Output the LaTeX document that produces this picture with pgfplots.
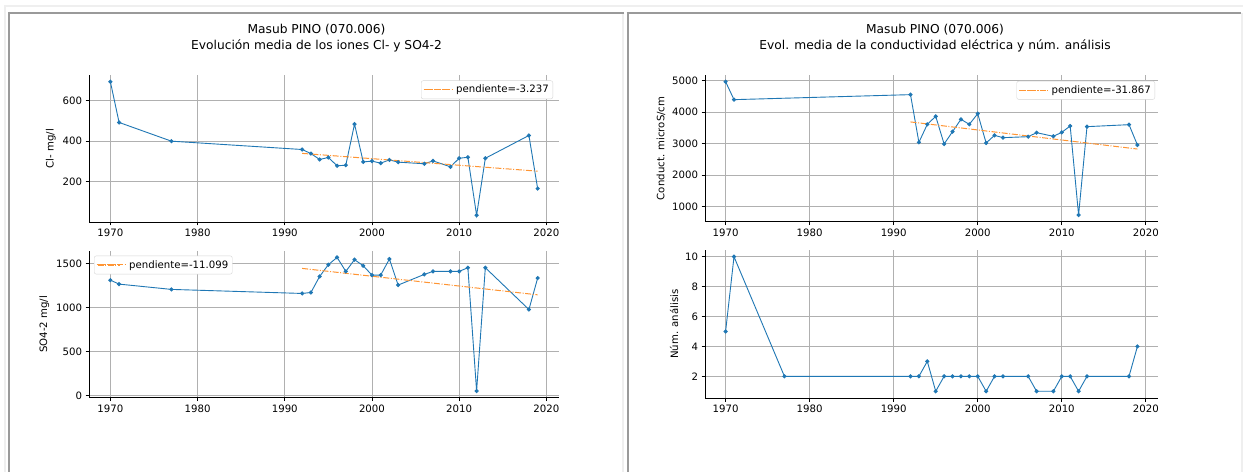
\documentclass[border=0pt]{standalone}
\usepackage{fontspec}
\setmainfont{DejaVu Sans}
\usepackage{pgfplots}
\pgfplotsset{compat=1.18}
\definecolor{mblue}{HTML}{1F77B4}
\definecolor{morange}{HTML}{FF7F0E}
\definecolor{morangel}{HTML}{FF9533}
\definecolor{gridc}{HTML}{B0B0B0}
\definecolor{darkb}{HTML}{9A9A9A}
\definecolor{lightb}{HTML}{EFEFEF}
\definecolor{legb}{HTML}{D5D5D5}
\newcommand{\tf}{\fontsize{10.2}{12}\selectfont}
\newcommand{\ttl}{\fontsize{12.3}{14}\selectfont}
\pgfplotsset{
 myax/.style={
  scale only axis, anchor=south west,
  xmin=1967.55, xmax=2021.45,
  xtick={1970,1980,...,2020},
  axis x line*=bottom, axis y line*=left,
  axis line style={-, line width=0.8bp, black},
  tick align=outside, major tick length=3.5bp,
  every tick/.style={black, line width=0.8bp},
  grid=major, major grid style={gridc, line width=0.8bp},
  tick label style={font=\tf, /pgf/number format/1000 sep={}, /pgf/number format/assume math mode=true},
  label style={font=\tf},
  legend style={font=\tf, draw=legb, rounded corners=2bp, fill=white, inner xsep=2bp, inner ysep=2.5bp},
  legend cell align=left,
  legend image code/.code={\path (-1bp,0bp) -- (29bp,0bp); \draw[morangel, line width=1.1bp, dash pattern=on 6bp off 1.6bp on 1bp off 1.6bp] (0bp,0bp) -- (22bp,0bp);},
  clip=false,
 },
 dline/.style={mblue, line width=0.9bp, mark=*, mark size=1.6bp, mark options={solid, fill=mblue, draw=mblue}},
 tline/.style={morangel, line width=1bp, dash pattern=on 6bp off 1.6bp on 1bp off 1.6bp},
}
\begin{document}
\begin{tikzpicture}
\useasboundingbox (0bp,0bp) rectangle (1243bp,472bp);
\fill[white] (0bp,0bp) rectangle (1243bp,472bp);
% outer light lines
\draw[lightb, line width=2bp] (4bp,465.7bp) -- (1243bp,465.7bp);
\draw[lightb, line width=2bp] (4.7bp,466bp) -- (4.7bp,0bp);
% left panel
\draw[lightb, line width=2bp] (622.7bp,459bp) -- (622.7bp,0bp);
\draw[darkb, line width=2bp] (8bp,459bp) -- (623.7bp,459bp);
\draw[darkb, line width=2bp] (9bp,460bp) -- (9bp,0bp);
% right panel
\draw[lightb, line width=2bp] (1242bp,459bp) -- (1242bp,0bp);
\draw[darkb, line width=2bp] (626.7bp,459bp) -- (1241bp,459bp);
\draw[darkb, line width=2bp] (627.7bp,460bp) -- (627.7bp,0bp);
% titles
\node[font=\ttl] at (316.5bp,442bp) {Masub PINO (070.006)};
\node[font=\ttl] at (316.5bp,426bp) {Evolución media de los iones Cl- y SO4-2};
\node[font=\ttl] at (935bp,442bp) {Masub PINO (070.006)};
\node[font=\ttl] at (935bp,426bp) {Evol. media de la conductividad eléctrica y núm. análisis};

% Top-left: Cl
\begin{axis}[myax, at={(89bp,250bp)}, width=470bp, height=147bp,
  ymin=3, ymax=725, ytick={200,400,600}, ylabel={Cl- mg/l},
  legend style={at={(1,1)}, anchor=north east, xshift=-6bp, yshift=-5.5bp}]
\addplot[dline, forget plot] coordinates {
(1970,692) (1971,492) (1977,400) (1992,359) (1993,339) (1994,310) (1995,320)
(1996,279) (1997,282) (1998,484) (1999,298) (2000,302) (2001,292) (2002,308)
(2003,297) (2006,289) (2007,303) (2009,274) (2010,316) (2011,321) (2012,36)
(2013,316) (2018,428) (2019,167)};
\addplot[tline] coordinates {(1992,340) (2019,252.6)};
\addlegendentry{pendiente=-3.237}
\end{axis}

% Bottom-left: SO4
\begin{axis}[myax, at={(89bp,74.3bp)}, width=470bp, height=147bp,
  ymin=-22.75, ymax=1643.75, ytick={0,500,1000,1500}, ylabel={SO4-2 mg/l},
  legend style={at={(0,1)}, anchor=north west, xshift=5bp, yshift=-5bp}]
\addplot[dline, forget plot] coordinates {
(1970,1310) (1971,1265) (1977,1205) (1992,1159) (1993,1170) (1994,1352) (1995,1485)
(1996,1568) (1997,1409) (1998,1542) (1999,1473) (2000,1367) (2001,1367) (2002,1549)
(2003,1254) (2006,1375) (2007,1409) (2009,1409) (2010,1409) (2011,1451) (2012,53)
(2013,1451) (2018,977) (2019,1333)};
\addplot[tline] coordinates {(1992,1443) (2019,1143.3)};
\addlegendentry{pendiente=-11.099}
\end{axis}

% Top-right: conductivity
\begin{axis}[myax, at={(705bp,250.3bp)}, width=453bp, height=146.7bp,
  ymin=523.35, ymax=5179.65, ytick={1000,2000,3000,4000,5000}, ylabel={Conduct. microS/cm},
  legend style={at={(1,1)}, anchor=north east, xshift=-3bp, yshift=-6bp}]
\addplot[dline, forget plot] coordinates {
(1970,4968) (1971,4397) (1992,4556) (1993,3042) (1994,3614) (1995,3868)
(1996,2989) (1997,3381) (1998,3772) (1999,3614) (2000,3952) (2001,3021) (2002,3265)
(2003,3190) (2006,3222) (2007,3349) (2009,3233) (2010,3360) (2011,3561) (2012,735)
(2013,3540) (2018,3603) (2019,2958)};
\addplot[tline] coordinates {(1992,3690) (2019,2829.6)};
\addlegendentry{pendiente=-31.867}
\end{axis}

% Bottom-right: number of analyses
\begin{axis}[myax, at={(705bp,74bp)}, width=453bp, height=148bp,
  ymin=0.55, ymax=10.45, ytick={2,4,6,8,10}, ylabel={Núm. análisis}]
\addplot[dline] coordinates {
(1970,5) (1971,10) (1977,2) (1992,2) (1993,2) (1994,3) (1995,1)
(1996,2) (1997,2) (1998,2) (1999,2) (2000,2) (2001,1) (2002,2)
(2003,2) (2006,2) (2007,1) (2009,1) (2010,2) (2011,2) (2012,1)
(2013,2) (2018,2) (2019,4)};
\end{axis}
\end{tikzpicture}
\end{document}
